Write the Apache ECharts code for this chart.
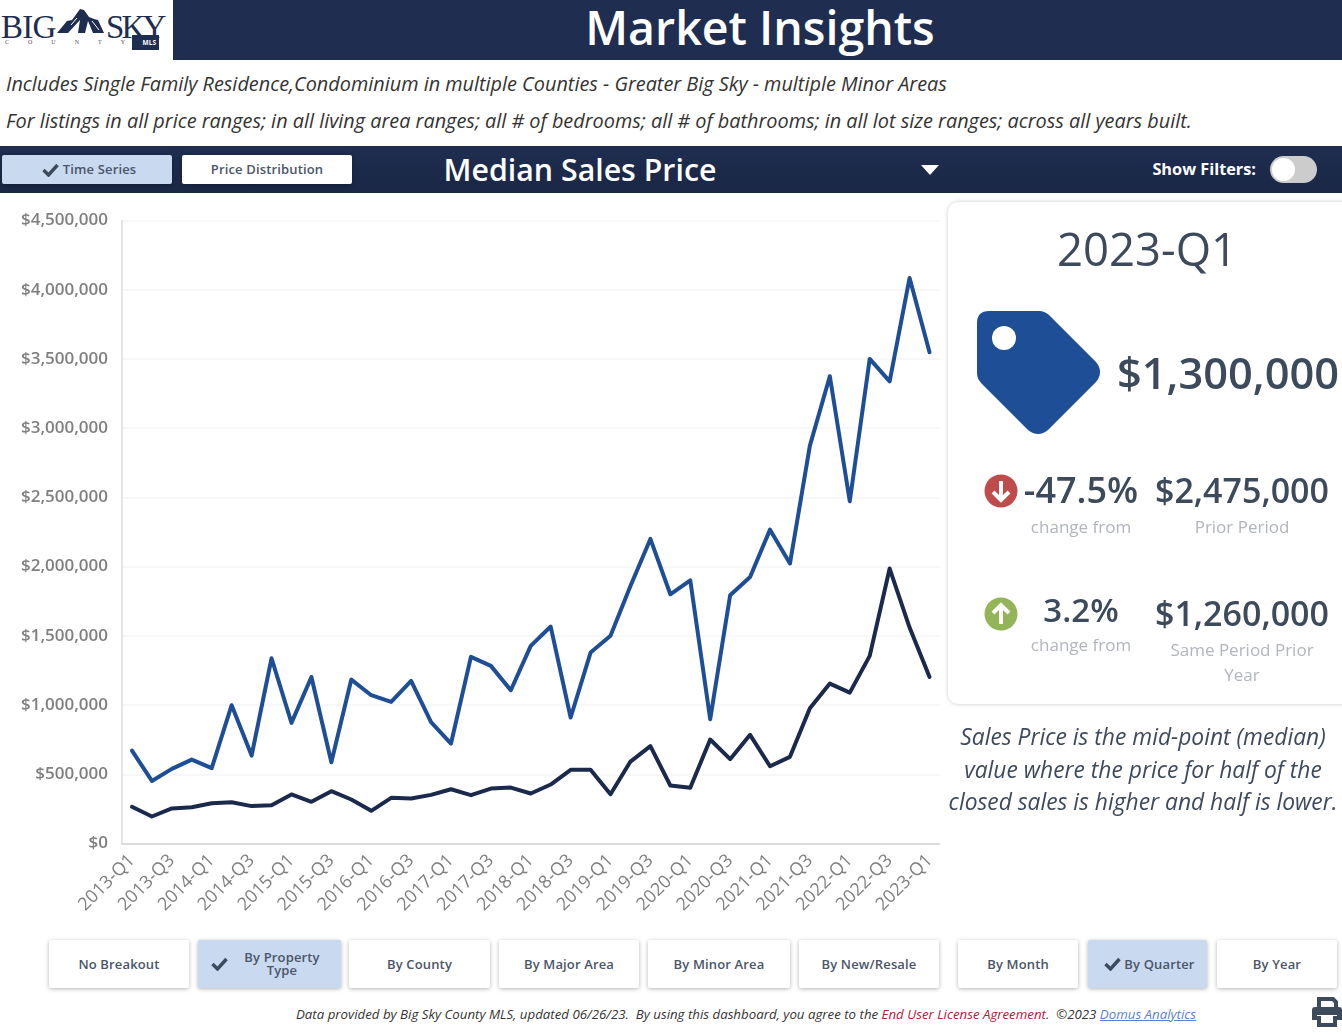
<!DOCTYPE html>
<html>

<head>
    <meta charset="utf-8">
    <script src="https://cdn.jsdelivr.net/npm/echarts@6/dist/echarts.min.js"></script>
    <style>
        html, body { margin: 0; padding: 0; background: #fff; }
        body { width: 1342px; height: 1035px; position: relative; overflow: hidden; font-family: "Open Sans", sans-serif; color: #3d4a5c; }
        .abs { position: absolute; white-space: nowrap; line-height: 1; }
        .mid { transform: translate(-50%, -50%); text-align: center; }
        .btn { position: absolute; top: 940px; height: 48px; background: #fff; box-shadow: 0 1px 4px rgba(0, 0, 0, .3); border-radius: 2px; box-sizing: border-box;
            display: flex; align-items: center; justify-content: center; font-size: 13px; font-weight: 600; color: #4a5568; letter-spacing: .15px; line-height: 13px; text-align: center; }
        .on { background: #c9d9f0; }
        .gray { color: #b1b5be; font-size: 17px; }
        .big { font-weight: 600; font-size: 34px; }
    </style>
</head>

<body>
    <!-- header -->
    <div class="abs" style="left:173px;top:0;width:1169px;height:60px;background:#1f2d50"></div>
    <div class="abs mid" style="left:760px;top:27px;color:#fff;font-size:46.5px;font-weight:600">Market Insights</div>
    <div class="abs" style="left:1px;top:11px;font-family:'Liberation Serif';font-size:33px;color:#1f2d50;letter-spacing:-.8px">BIG</div>
    <div class="abs" style="left:106px;top:11px;font-family:'Liberation Serif';font-size:33px;color:#1f2d50;letter-spacing:-2.8px">SKY</div>
    <svg class="abs" style="left:56px;top:8px" width="50" height="27" viewBox="0 0 50 27">
        <path fill="#1f2d50" d="M1 25 L11 13 L16 12 L19 8 L24 1 L28 2 L33 9 L38 11 L42 12 L48 25 L37 25 L32 13 L29 25 L22 25 L24 12 L12 25 Z" />
        <path fill="none" stroke="#fff" stroke-width="1" d="M36 13 L43 22 M15 17 L21 10" />
    </svg>
    <div class="abs" style="left:5px;top:39px;font-family:'Liberation Serif';font-size:6px;color:#555;letter-spacing:19px">COUNTY</div>
    <div class="abs" style="left:132px;top:35px;width:27px;height:15px;background:#1f2d50;color:#fff;font-size:6.5px;font-weight:700;line-height:15px;text-align:right;padding-right:3px;box-sizing:border-box">MLS</div>

    <div class="abs" style="left:6px;top:73px;font-size:19.87px;font-style:italic;color:#333;line-height:22px">Includes Single Family Residence,Condominium in multiple Counties - Greater Big Sky - multiple Minor Areas</div>
    <div class="abs" style="left:6px;top:110px;font-size:19.87px;font-style:italic;color:#333;line-height:22px">For listings in all price ranges; in all living area ranges; all # of bedrooms; all # of bathrooms; in all lot size ranges; across all years built.</div>

    <!-- tool bar -->
    <div class="abs" style="left:0;top:146px;width:1342px;height:47px;background:linear-gradient(#1f2d50,#1a2745)"></div>
    <div class="btn on" style="left:2px;top:155px;width:170px;height:29px;padding-left:4px">
        <svg width="17" height="14" viewBox="0 0 17 14" style="margin-right:4px"><path fill="none" stroke="#3d4a5c" stroke-width="3.4" d="M1.5 7 L6.5 12 L15.5 2" /></svg>Time Series</div>
    <div class="btn" style="left:182px;top:155px;width:170px;height:29px">Price Distribution</div>
    <div class="abs mid" style="left:580px;top:170px;color:#fff;font-size:30.3px;font-weight:600">Median Sales Price</div>
    <svg class="abs" style="left:920px;top:164px" width="20" height="12"><path fill="#fff" d="M1 1 H19 L10 11 Z" /></svg>
    <div class="abs" style="right:86px;top:161px;color:#fff;font-size:16.3px;font-weight:700">Show Filters:</div>
    <div class="abs" style="left:1270px;top:156px;width:47px;height:27px;border-radius:14px;background:#ccc"></div>
    <div class="abs" style="left:1272px;top:158px;width:23px;height:23px;border-radius:12px;background:#fff"></div>

    <!-- chart -->
    <div id="main" class="abs" style="left:0;top:195px;width:945px;height:740px"></div>

    <!-- side card -->
    <div class="abs" style="left:948px;top:202px;width:420px;height:502px;border-radius:10px;background:#fff;box-shadow:0 0 4px rgba(0,0,0,.22)"></div>
    <div class="abs mid" style="left:1147px;top:249px;font-size:45.5px">2023-Q1</div>
    <svg class="abs" style="left:977px;top:311px" width="124" height="124" viewBox="0 0 124 124">
        <path fill="#1d4e96" d="M12 0 H62 Q68 0 73 5 L119 51 Q127 61 119 71 L71 119 Q61 127 51 119 L5 73 Q0 68 0 62 V12 Q0 0 12 0 Z" />
        <circle cx="27" cy="27" r="12" fill="#fff" />
    </svg>
    <div class="abs" style="left:1117px;top:351px;font-size:43.4px;font-weight:600">$1,300,000</div>

    <svg class="abs" style="left:984px;top:474px" width="34" height="34" viewBox="0 0 34 34">
        <circle cx="17" cy="17" r="16.5" fill="#bf4b4d" />
        <path fill="none" stroke="#fff" stroke-width="4" d="M17 7 V25 M9 18 L17 26 L25 18" />
    </svg>
    <div class="abs mid" style="left:1081px;top:490px;font-size:36px;font-weight:600">-47.5%</div>
    <div class="abs mid big" style="left:1242px;top:490px">$2,475,000</div>
    <div class="abs mid gray" style="left:1081px;top:526px">change from</div>
    <div class="abs mid gray" style="left:1242px;top:526px">Prior Period</div>

    <svg class="abs" style="left:984px;top:597px" width="34" height="34" viewBox="0 0 34 34">
        <circle cx="17" cy="17" r="16.5" fill="#93b558" />
        <path fill="none" stroke="#fff" stroke-width="4" d="M17 27 V9 M9 16 L17 8 L25 16" />
    </svg>
    <div class="abs mid" style="left:1081px;top:609px;font-size:33px;font-weight:600">3.2%</div>
    <div class="abs mid big" style="left:1242px;top:613px">$1,260,000</div>
    <div class="abs mid gray" style="left:1081px;top:644px">change from</div>
    <div class="abs mid gray" style="left:1242px;top:649px">Same Period Prior</div>
    <div class="abs mid gray" style="left:1242px;top:674px">Year</div>

    <div class="abs mid" style="left:1143px;top:737px;font-size:22.8px;font-style:italic">Sales Price is the mid-point (median)</div>
    <div class="abs mid" style="left:1143px;top:770px;font-size:22.8px;font-style:italic">value where the price for half of the</div>
    <div class="abs mid" style="left:1143px;top:802px;font-size:22.8px;font-style:italic">closed sales is higher and half is lower.</div>

    <!-- bottom buttons -->
    <div class="btn" style="left:49px;width:140px">No Breakout</div>
    <div class="btn on" style="left:198px;width:143px">
        <svg width="17" height="14" viewBox="0 0 17 14" style="margin-right:16px"><path fill="none" stroke="#3d4a5c" stroke-width="3.4" d="M1.5 7 L6.5 12 L15.5 2" /></svg>
        <span style="margin-right:8px">By Property<br>Type</span></div>
    <div class="btn" style="left:349px;width:141px">By County</div>
    <div class="btn" style="left:499px;width:140px">By Major Area</div>
    <div class="btn" style="left:648px;width:142px">By Minor Area</div>
    <div class="btn" style="left:799px;width:140px">By New/Resale</div>
    <div class="btn" style="left:958px;width:120px">By Month</div>
    <div class="btn on" style="left:1088px;width:119px;padding-left:4px">
        <svg width="17" height="14" viewBox="0 0 17 14" style="margin-right:3px"><path fill="none" stroke="#3d4a5c" stroke-width="3.4" d="M1.5 7 L6.5 12 L15.5 2" /></svg>By Quarter</div>
    <div class="btn" style="left:1217px;width:120px">By Year</div>

    <!-- footer -->
    <div class="abs" style="left:296px;top:1008px;font-size:13.28px;font-style:italic;color:#333;white-space:pre">Data provided by Big Sky County MLS, updated 06/26/23.  By using this dashboard, you agree to the <span style="color:#b0203a">End User License Agreement</span>.  ©2023 <span style="color:#5b7fd0;text-decoration:underline">Domus Analytics</span></div>
    <svg class="abs" style="left:1312px;top:996px" width="30" height="32" viewBox="0 0 30 32">
        <path fill="none" stroke="#3d4a5c" stroke-width="4" d="M7 12 V3 H21 L24 6 V12" />
        <path fill="#3d4a5c" d="M3 11 H27 Q30 11 30 14 V24 H25 V19 H5 V24 H0 V14 Q0 11 3 11 Z" />
        <path fill="none" stroke="#3d4a5c" stroke-width="4" d="M7 20 V29 H23 V20" />
    </svg>

    <script type="text/javascript">
        var categories = ['2013-Q1', '2013-Q2', '2013-Q3', '2013-Q4', '2014-Q1', '2014-Q2', '2014-Q3', '2014-Q4',
            '2015-Q1', '2015-Q2', '2015-Q3', '2015-Q4', '2016-Q1', '2016-Q2', '2016-Q3', '2016-Q4',
            '2017-Q1', '2017-Q2', '2017-Q3', '2017-Q4', '2018-Q1', '2018-Q2', '2018-Q3', '2018-Q4',
            '2019-Q1', '2019-Q2', '2019-Q3', '2019-Q4', '2020-Q1', '2020-Q2', '2020-Q3', '2020-Q4',
            '2021-Q1', '2021-Q2', '2021-Q3', '2021-Q4', '2022-Q1', '2022-Q2', '2022-Q3', '2022-Q4', '2023-Q1'];

        // 读图估计的数值
        var blueValues = [671000, 452000, 539000, 606000, 544000, 999000, 635000, 1338000,
            871000, 1203000, 587000, 1184000, 1071000, 1023000, 1175000, 876000,
            722000, 1348000, 1283000, 1107000, 1427000, 1567000, 910000, 1379000,
            1500000, 1860000, 2200000, 1800000, 1901000, 898000, 1793000, 1925000,
            2267000, 2022000, 2874000, 3375000, 2472000, 3500000, 3338000, 4085000, 3548000];

        var darkValues = [265000, 195000, 253000, 262000, 291000, 298000, 270000, 277000,
            354000, 301000, 378000, 318000, 236000, 330000, 325000, 351000,
            392000, 349000, 397000, 404000, 361000, 426000, 532000, 532000,
            356000, 592000, 703000, 419000, 402000, 751000, 609000, 785000,
            558000, 626000, 977000, 1155000, 1090000, 1355000, 1986000, 1560000, 1203000];

        var myChart = echarts.init(document.getElementById('main'));

        var option = {
            animation: false,
            grid: { left: 122, top: 25.5, width: 817.5, height: 623 },
            xAxis: {
                type: 'category',
                data: categories,
                axisTick: { show: false },
                axisLine: { lineStyle: { color: '#d4d4d4', width: 1.5 } },
                axisLabel: { interval: 1, rotate: 45, color: '#7f7f7f', fontFamily: 'Open Sans', fontSize: 18, fontWeight: 500, margin: 14 }
            },
            yAxis: {
                type: 'value',
                min: 0,
                max: 4500000,
                interval: 500000,
                axisLine: { show: true, lineStyle: { color: '#dcdcdc', width: 1.5 } },
                axisTick: { show: false },
                splitLine: { lineStyle: { color: '#f5f5f5', width: 1.5 } },
                axisLabel: {
                    color: '#7f7f7f', fontFamily: 'Open Sans', fontSize: 17, fontWeight: 600, margin: 14, padding: [3, 0, 0, 0],
                    formatter: function (v) { return '$' + v.toLocaleString('en-US'); }
                }
            },
            series: [{
                name: 'Single Family Residence',
                type: 'line',
                data: blueValues,
                showSymbol: false,
                lineStyle: { color: '#1d4e96', width: 4, cap: 'round', join: 'round' }
            }, {
                name: 'Condominium',
                type: 'line',
                data: darkValues,
                showSymbol: false,
                lineStyle: { color: '#1b2a4c', width: 4, cap: 'round', join: 'round' }
            }]
        };
        myChart.setOption(option);
    </script>
</body>

</html>
